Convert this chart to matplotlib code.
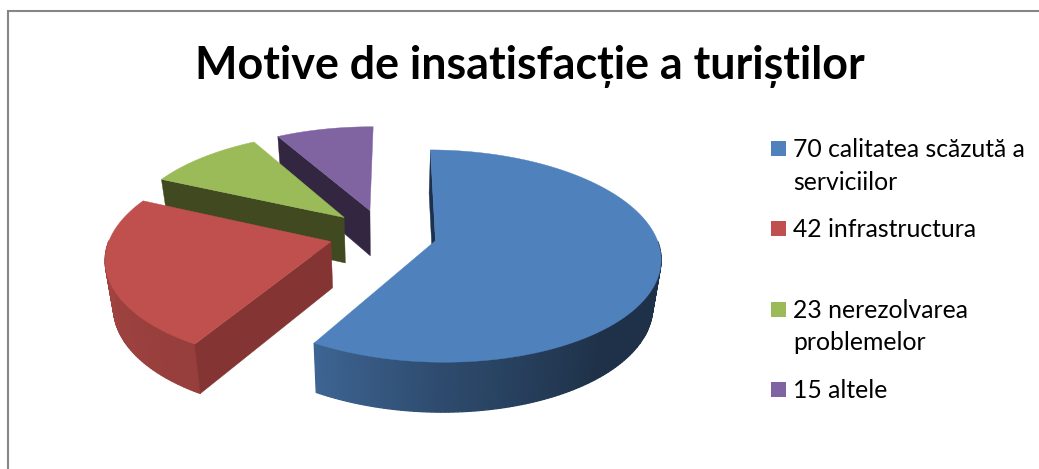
import numpy as np
import matplotlib.pyplot as plt
from matplotlib.colors import to_rgb
from matplotlib.patches import Polygon, Rectangle

plt.rcParams['font.family'] = ['Lato', 'Open Sans', 'DejaVu Sans']

title = 'Motive de insatisfacție a turiștilor'
labels = ['70 calitatea scăzută a\nserviciilor', '42 infrastructura',
          '23 nerezolvarea\nproblemelor', '15 altele']
# slice sizes, clockwise from twelve o'clock
sizes = [70, 28, 12, 10]
colors = ['#4f81bd', '#c0504d', '#9bbb59', '#8064a2']
cut_colors = ['#1c314e', '#843533', '#40491f', '#322640']

#%% view of the pie
cx, cy = 383, 234
radius = 220
tilt = 102 / 220
persp = 0.143
depth = 46
shrink = 0.03
explode = 0.245
start = 0.5

def project(x, y, z=0.0):
    w = 1 + persp * y
    sx = cx + radius * x * (1 - shrink * z) / w
    sy = cy - radius * tilt * y / w + depth * z / np.sqrt(w)
    return sx, sy

def shade(color, theta):
    f = np.interp(theta % 360, [90, 140, 180, 210, 300], [.38, .38, .58, .78, .88])
    return tuple(f * np.array(to_rgb(color)))

#%% figure
dpi = 100
fig = plt.figure(figsize=(1039 / dpi, 469 / dpi), dpi=dpi)
ax = fig.add_axes([0, 0, 1, 1])
ax.set_xlim(0, 1039)
ax.set_ylim(469, 0)
ax.axis('off')

# chart frame, open at the right and bottom
ax.plot([7.5, 7.5, 1039], [469, 11.5, 11.5], color='#868686', lw=1.5, solid_joinstyle='miter')

edges = start + np.cumsum([0] + sizes) / np.sum(sizes) * 360
for i in [3, 2, 1, 0]:
    t0, t1 = edges[i], edges[i + 1]
    mid = np.radians((t0 + t1) / 2)
    ox, oy = explode * np.sin(mid), explode * np.cos(mid)
    base = i * -10

    thetas = np.arange(t0, t1 + 0.5, 1.0)
    thetas[-1] = t1
    rad = np.radians(thetas)
    rx, ry = ox + np.sin(rad), oy + np.cos(rad)

    # outer wall, in thin strips so the shading can vary along the rim
    for j in range(len(rad) - 1):
        if np.cos(rad[j]) > 0:  # back of the rim, hidden by the top face
            continue
        quad = [project(rx[j], ry[j]), project(rx[j + 1], ry[j + 1]),
                project(rx[j + 1], ry[j + 1], 1), project(rx[j], ry[j], 1)]
        c = shade(colors[i], thetas[j])
        ax.add_patch(Polygon(quad, closed=True, fc=c, ec=c, lw=0.9, zorder=base + 1))

    # only the cut face at the start of a slice looks toward the viewer
    quad = [project(ox, oy), project(rx[0], ry[0]), project(rx[0], ry[0], 1), project(ox, oy, 1)]
    ax.add_patch(Polygon(quad, closed=True, fc=cut_colors[i], ec=cut_colors[i], lw=0.3, zorder=base + 2))

    # top face
    pts = [project(ox, oy)] + [project(a, b) for a, b in zip(rx, ry)]
    ax.add_patch(Polygon(pts, closed=True, fc=colors[i], ec=colors[i], lw=0.3, zorder=base + 3))

#%% title and legend
ax.text(530, 66, title, ha='center', va='center', fontsize=32.3, fontweight='bold', color='black')

key_tops = [141, 221, 302, 382]
for label, color, top in zip(labels, colors, key_tops):
    ax.add_patch(Rectangle((771, top), 15, 15, fc=color, ec='none'))
    ax.text(793, top - 3, label, ha='left', va='top', fontsize=17.8, color='black', linespacing=1.5)

plt.savefig('out.png', dpi=dpi)
